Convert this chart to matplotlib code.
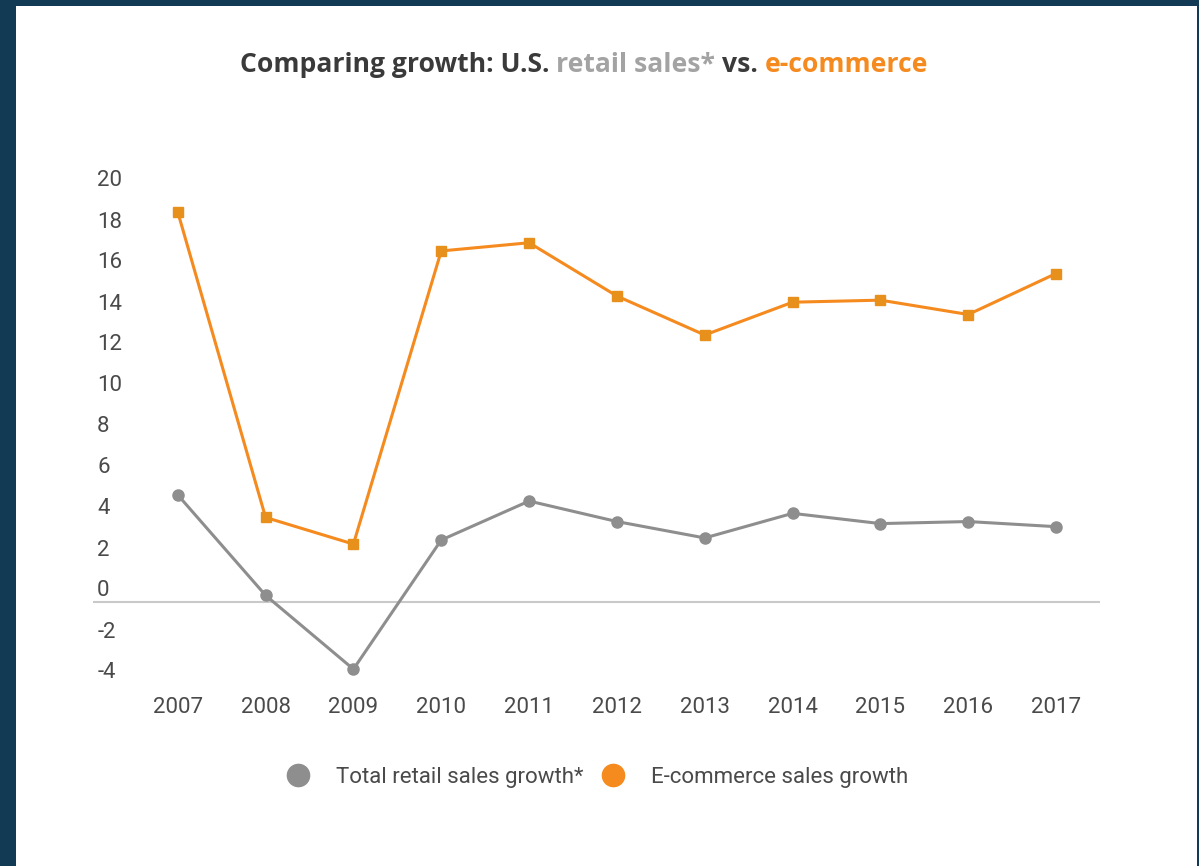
import matplotlib.pyplot as plt
from matplotlib.lines import Line2D
from matplotlib.patches import Rectangle
from matplotlib.transforms import ScaledTranslation

# Data
years = [2007, 2008, 2009, 2010, 2011, 2012, 2013, 2014, 2015, 2016, 2017]
retail_growth = [5.2, 0.3, -3.3, 3.0, 4.9, 3.9, 3.1, 4.3, 3.8, 3.9, 3.65]
ecommerce_growth = [19.0, 4.1, 2.8, 17.1, 17.5, 14.9, 13.0, 14.6, 14.7, 14.0, 16.0]
y_ticks = [-4, -2, 0, 2, 4, 6, 8, 10, 12, 14, 16, 18, 20]
series_labels = ['Total retail sales growth*', 'E-commerce sales growth']

navy = '#123a55'
orange = '#f58a1f'
orange_marker = '#e8901c'
gray = '#8e8e8e'
text_color = '#4a4a4a'

plt.rcParams['font.family'] = ['Roboto', 'DejaVu Sans']

W, H = 1199, 866
fig = plt.figure(figsize=(W / 100, H / 100), dpi=100)
fig.patch.set_facecolor(navy)
# white panel inside the navy frame
fig.patches.append(Rectangle((16 / W, 0), (1197 - 16) / W, (H - 6) / H,
                             transform=fig.transFigure, facecolor='white',
                             edgecolor='none', zorder=-5))

# axes placed in pixel terms: zero at y=601.5, 20.5 px per unit
ymin, ymax = -4.6, 21
top_px = 601.5 - 20.5 * ymax
bot_px = 601.5 - 20.5 * ymin
ax = fig.add_axes([93 / W, (H - bot_px) / H, (1100 - 93) / W, (bot_px - top_px) / H])
ax.set_facecolor('none')
ax.set_xlim(2007 - 0.965, 2017 + 0.5)
ax.set_ylim(ymin, ymax)

ax.axhline(0, color='#c9c9c9', linewidth=1.5, zorder=1)

ax.plot(years, retail_growth, color=gray, linewidth=2.2, marker='o',
        markersize=8, markerfacecolor=gray, markeredgecolor=gray, zorder=3)
ax.plot(years, ecommerce_growth, color=orange, linewidth=2.2, marker='s',
        markersize=7.5, markerfacecolor=orange_marker, markeredgecolor=orange_marker, zorder=3)

for side in ['top', 'right', 'left', 'bottom']:
    ax.spines[side].set_visible(False)

ax.set_xticks(years)
ax.set_xticklabels([str(y) for y in years])
ax.set_yticks(y_ticks)
ax.set_yticklabels([str(t) for t in y_ticks])
ax.tick_params(axis='both', length=0, labelsize=16, labelcolor=text_color)
ax.tick_params(axis='y', pad=-3)
ax.tick_params(axis='x', pad=1)
for lab in ax.get_yticklabels():
    lab.set_horizontalalignment('left')
    lab.set_transform(lab.get_transform() + ScaledTranslation(0, 0.13, fig.dpi_scale_trans))

# legend with big round markers
handles = [
    Line2D([], [], linestyle='none', marker='o', markersize=16, color=gray),
    Line2D([], [], linestyle='none', marker='o', markersize=16, color=orange),
]
ax.legend(handles, series_labels, loc='center', bbox_to_anchor=(0.5, (bot_px - 777) / (bot_px - top_px)),
          ncol=2, frameon=False, fontsize=16, handletextpad=1.1, columnspacing=0.75,
          labelcolor=text_color, handlelength=1.2)

# multi-coloured title, pieces placed one after another
parts = [('Comparing growth: U.S. ', '#3a3a3a'), ('retail sales* ', '#a3a3a3'),
         ('vs. ', '#3a3a3a'), ('e-commerce', orange)]
title_font = dict(fontsize=19.1, fontweight='bold', family=['Open Sans', 'DejaVu Sans'])
renderer = fig.canvas.get_renderer()
x_px = 240
for s, c in parts:
    t = fig.text(x_px / W, (H - 72) / H, s, color=c, va='baseline', **title_font)
    x_px += t.get_window_extent(renderer).width

plt.savefig('out.png', dpi=100, facecolor=fig.get_facecolor())
